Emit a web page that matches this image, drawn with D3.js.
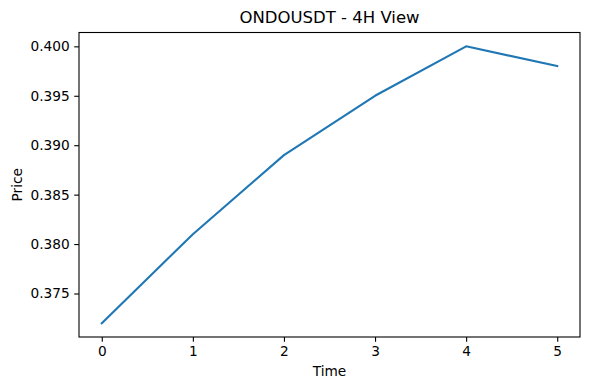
<!DOCTYPE html>
<html>
<head>
<meta charset="utf-8">
<script src="https://cdn.jsdelivr.net/npm/d3@7"></script>
<style>
  body { margin: 0; background: #fff; }
  text { font-family: "DejaVu Sans", sans-serif; fill: #000; }
</style>
</head>
<body>
<div id="grafica"></div>
<script>
// datos
var time = [0, 1, 2, 3, 4, 5];
var price = [0.372, 0.381, 0.389, 0.395, 0.400, 0.398];
var xTicks = [0, 1, 2, 3, 4, 5];
var yTicks = [0.375, 0.380, 0.385, 0.390, 0.395, 0.400];

// dimensiones y margenes
var margin = {top: 32.5, right: 10, bottom: 53, left: 79},
    width = 590 - margin.left - margin.right,
    height = 390 - margin.top - margin.bottom;

var svg = d3.select("#grafica")
  .append("svg")
  .attr("width", 590)
  .attr("height", 390);

var g = svg.append("g")
  .attr("transform", "translate(" + margin.left + "," + margin.top + ")");

// escalas con margen de 5% como matplotlib
var xPad = (d3.max(time) - d3.min(time)) * 0.05;
var x = d3.scaleLinear()
  .domain([d3.min(time) - xPad, d3.max(time) + xPad])
  .range([0, width]);

var yPad = (d3.max(price) - d3.min(price)) * 0.05;
var y = d3.scaleLinear()
  .domain([d3.min(price) - yPad, d3.max(price) + yPad])
  .range([height, 0]);

// eje X
var xAxis = g.append("g")
  .attr("transform", "translate(0," + height + ")")
  .call(d3.axisBottom(x).tickValues(xTicks).tickFormat(d3.format("d")).tickSize(4.8).tickPadding(4.5));

// eje Y
var yAxis = g.append("g")
  .call(d3.axisLeft(y).tickValues(yTicks).tickFormat(d3.format(".3f")).tickSize(4.8).tickPadding(4.5));

[xAxis, yAxis].forEach(function(a) {
  a.select(".domain").remove();
  a.selectAll("line").attr("stroke", "#000").attr("stroke-width", 1.1);
  a.selectAll("text").style("font-size", "13.7px").attr("fill", "#000");
});

// linea
var line = d3.line()
  .x(function(d, i) { return x(time[i]); })
  .y(function(d) { return y(d); });

g.append("path")
  .datum(price)
  .attr("d", line)
  .attr("fill", "none")
  .attr("stroke", "#1f77b4")
  .attr("stroke-width", 2.1)
  .attr("stroke-linejoin", "round")
  .attr("stroke-linecap", "square");

// marco
g.append("rect")
  .attr("width", width)
  .attr("height", height)
  .attr("fill", "none")
  .attr("stroke", "#000")
  .attr("stroke-width", 1.1);

// titulos
svg.append("text")
  .attr("x", margin.left + width / 2)
  .attr("y", 23)
  .attr("text-anchor", "middle")
  .style("font-size", "16.5px")
  .text("ONDOUSDT - 4H View");

svg.append("text")
  .attr("x", margin.left + width / 2)
  .attr("y", 376)
  .attr("text-anchor", "middle")
  .style("font-size", "13.7px")
  .text("Time");

svg.append("text")
  .attr("transform", "translate(22," + (margin.top + height / 2) + ") rotate(-90)")
  .attr("text-anchor", "middle")
  .style("font-size", "13.7px")
  .text("Price");
</script>
</body>
</html>
